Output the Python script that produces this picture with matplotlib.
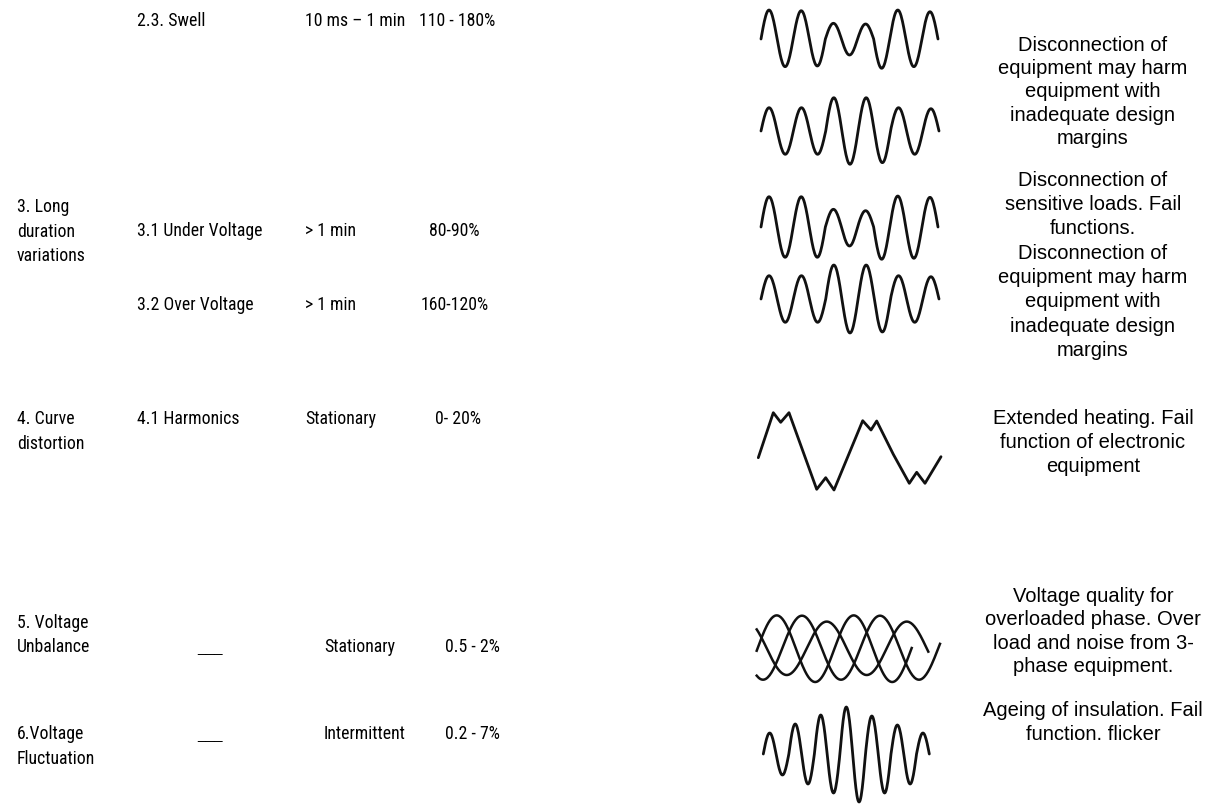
import numpy as np
import matplotlib
matplotlib.use("Agg")
import matplotlib.pyplot as plt
from matplotlib import font_manager

# ---- table text ----
group_labels = [["3. Long", "duration", "variations"],
                ["4. Curve", "distortion"],
                ["5. Voltage", "Unbalance"],
                ["6.Voltage", "Fluctuation"]]
group_base = [212.3, 424.3, 627.7, 739.3]

row_base = [26, 236, 310, 424.3, 651.7, 739.3]
sub_types = ["2.3. Swell", "3.1 Under Voltage", "3.2 Over Voltage", "4.1 Harmonics", "___", "___"]
sub_x = [137.3, 137.3, 137.3, 137.3, 197.7, 197.7]
durations = ["10 ms \u2013 1 min", "> 1 min", "> 1 min", "Stationary", "Stationary", "Intermittent"]
dur_x = [305, 305, 305, 305, 324, 324]
magnitudes = ["110 - 180%", "80-90%", "160-120%", "0- 20%", "0.5 - 2%", "0.2 - 7%"]
mag_x = [419.3, 429, 420.7, 435, 445, 445]

effects = [["Disconnection of", "equipment may harm", "equipment with",
            "inadequate design", "margins"],
           ["Disconnection of", "sensitive loads. Fail", "functions.",
            "Disconnection of", "equipment may harm", "equipment with",
            "inadequate design", "margins"],
           ["Extended heating. Fail", "function of electronic", "equipment"],
           ["Voltage quality for", "overloaded phase. Over",
            "load and noise from 3-", "phase equipment."],
           ["Ageing of insulation. Fail", "function. flicker"]]
effect_base = [50.7, 185.7, 423.7, 601.7, 716]
effect_step = [23.3, 24.3, 24.0, 23.5, 23.5]

# ---- waveform sketches (half-cycle amplitudes, px) ----
swell_amp = [29, 27.7, 28.3, 27, 15.7, 16, 15, 29.3, 29, 27.7, 27.3]
swell2_amp = [23.3, 23.3, 23.3, 23.3, 33.3, 33.3, 33.3, 31.7, 23.3, 23.3, 22.3]
under_amp = [30.3, 30.3, 30.3, 30.3, 17.7, 19, 16.3, 32.3, 31, 31.3, 29.7]
over_amp = [23.3, 23.3, 23.3, 23.3, 34, 34, 34, 33, 23.3, 23.3, 22.3]
fluct_amp = [21, 21, 30, 30, 39, 39, 47, 48, 38, 39, 29, 30, 21]

wave_amps = [swell_amp, swell2_amp, under_amp, over_amp, fluct_amp]
wave_x0 = [761, 761, 761, 761, 763.3]
wave_x1 = [938, 939, 938, 939, 929.3]
wave_yc = [39, 131, 227, 299, 754]

# harmonic distorted curve, traced vertices
harm_x = [758.3, 773.3, 780.7, 789, 816.7, 825.7, 834, 862.7, 871, 876.7,
          893.3, 909.3, 916.7, 925, 941]
harm_y = [457.7, 412.7, 422.3, 412.7, 489.3, 477.7, 490, 420.7, 430, 421,
          454.3, 483.3, 472.3, 483.3, 456.7]

# three unbalanced phases: start, end, peak position, period, centre, amplitude
phase_x0 = [756.7, 756.7, 756.7]
phase_x1 = [911.7, 940, 928.3]
phase_peak = [776.7, 802, 826.7]
phase_period = [77, 78, 80]
phase_yc = [648.7, 647.7, 648.3]
phase_amp = [33.3, 32, 26.7]

names = {f.name for f in font_manager.fontManager.ttflist}
narrow_family = "Liberation Sans"
narrow_size = 11.5
for fam, size in [("Liberation Sans Narrow", 13.2), ("Roboto Condensed", 12.8),
                  ("Archivo Narrow", 12.8), ("PT Sans Narrow", 13.2)]:
    if fam in names:
        narrow_family, narrow_size = fam, size
        break
narrow = dict(family=narrow_family, fontsize=narrow_size)
regular = dict(family="Liberation Sans", fontsize=14.5)
blank = dict(family="Liberation Sans", fontsize=11)

fig = plt.figure(figsize=(12.23, 8.05), dpi=100)
ax = fig.add_axes([0, 0, 1, 1])
ax.set_xlim(0, 1223)
ax.set_ylim(805, 0)
ax.axis("off")

for lines, b in zip(group_labels, group_base):
    for i, s in enumerate(lines):
        ax.text(17, b + i * 24.5, s, va="baseline", ha="left", **narrow)

for i in range(len(row_base)):
    kw = blank if sub_types[i] == "___" else narrow
    ax.text(sub_x[i], row_base[i], sub_types[i], va="baseline", ha="left", **kw)
    ax.text(dur_x[i], row_base[i], durations[i], va="baseline", ha="left", **narrow)
    ax.text(mag_x[i], row_base[i], magnitudes[i], va="baseline", ha="left", **narrow)

for lines, b, st in zip(effects, effect_base, effect_step):
    for i, s in enumerate(lines):
        ax.text(1093, b + i * st, s, va="baseline", ha="center", **regular)

wave_kw = dict(color="#111111", lw=2.0, solid_capstyle="round", solid_joinstyle="round")

for amps, x0, x1, yc in zip(wave_amps, wave_x0, wave_x1, wave_yc):
    n = len(amps)
    xs, ys = [], []
    for k, a in enumerate(amps):
        t = np.linspace(0, 1, 25)
        sign = 1 if k % 2 == 0 else -1
        xs.append(x0 + (x1 - x0) * (k + t) / n)
        ys.append(yc - sign * a * np.sin(np.pi * t))
    ax.plot(np.concatenate(xs), np.concatenate(ys), **wave_kw)

ax.plot(harm_x, harm_y, **wave_kw)

for x0, x1, xp, p, yc, a in zip(phase_x0, phase_x1, phase_peak, phase_period, phase_yc, phase_amp):
    x = np.linspace(x0, x1, 200)
    ax.plot(x, yc - a * np.cos(2 * np.pi * (x - xp) / p), color="#111111", lw=1.8)

fig.savefig("out.png", dpi=100, facecolor="white")
